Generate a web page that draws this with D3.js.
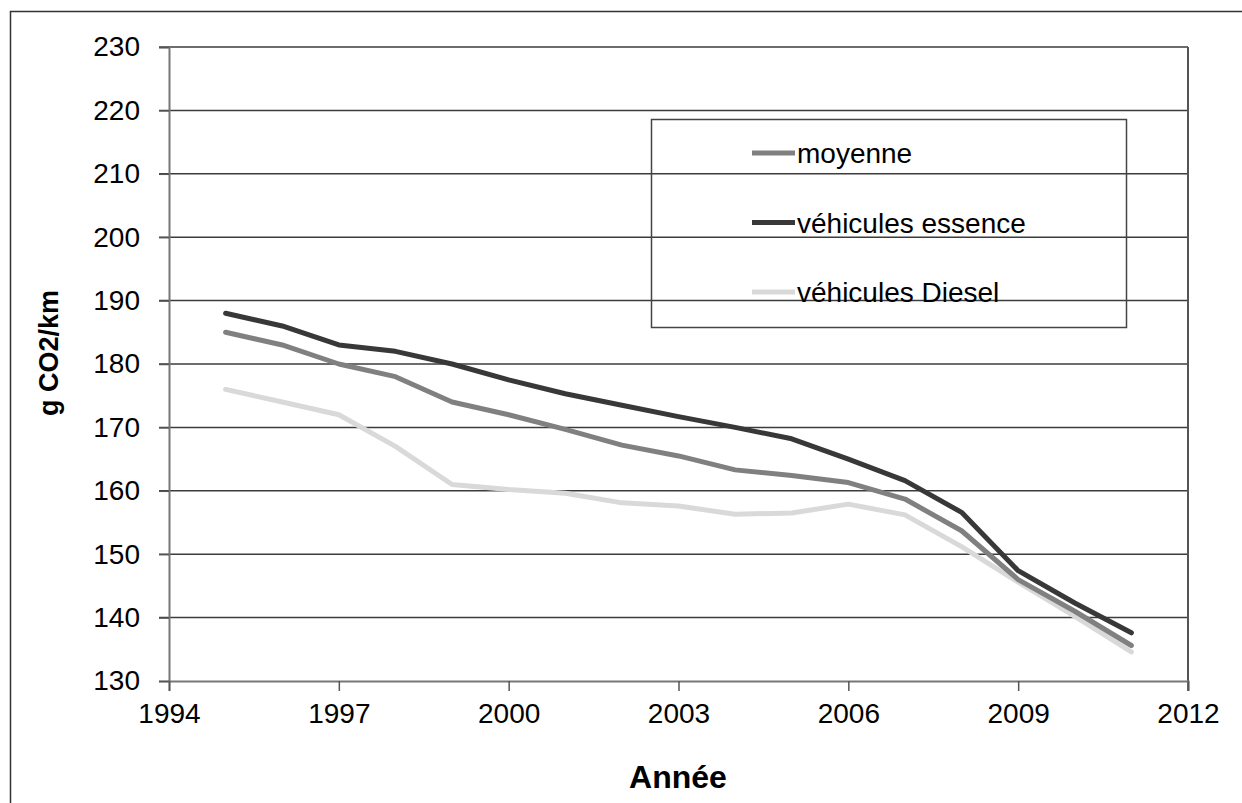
<!DOCTYPE html>
<html>
<head>
<meta charset="utf-8">
<script src="https://cdn.jsdelivr.net/npm/d3@7"></script>
<style>
  body { margin: 0; background: #fff; }
  svg text { font-family: Arial, "Liberation Sans", sans-serif; fill: #000; }
</style>
</head>
<body>
<svg id="Chart"></svg>
<script>
// years and g CO2/km values
let years = [1995, 1996, 1997, 1998, 1999, 2000, 2001, 2002, 2003, 2004, 2005, 2006, 2007, 2008, 2009, 2010, 2011];
let moyenne = [185, 183, 180, 178, 174, 172, 169.7, 167.2, 165.5, 163.3, 162.4, 161.3, 158.7, 153.7, 146, 141, 135.6];
let essence = [188, 186, 183, 182, 180, 177.5, 175.3, 173.5, 171.7, 170, 168.2, 165, 161.6, 156.6, 147.4, 142.3, 137.6];
let diesel = [176, 174, 172, 167, 161, 160.2, 159.6, 158.1, 157.6, 156.3, 156.5, 157.9, 156.2, 151.2, 145.6, 140.2, 134.6];
let seriesNames = ['moyenne', 'véhicules essence', 'véhicules Diesel'];
let seriesColors = ['#808080', '#383838', '#d9d9d9'];
let xTicks = [1994, 1997, 2000, 2003, 2006, 2009, 2012];
let yTicks = [130, 140, 150, 160, 170, 180, 190, 200, 210, 220, 230];

function getConfig() {
  let width = 1242;
  let height = 803;
  let margin = { top: 47, bottom: 122, left: 169, right: 54 };
  let bodyWidth = width - margin.left - margin.right;
  let bodyHeight = height - margin.top - margin.bottom;
  let container = d3.select('#Chart').attr('width', width).attr('height', height);
  return { width, height, margin, bodyWidth, bodyHeight, container };
}

function getScales(config) {
  let { bodyWidth, bodyHeight } = config;
  let xScale = d3.scaleLinear().domain([1994, 2012]).range([0, bodyWidth]);
  let yScale = d3.scaleLinear().domain([130, 230]).range([bodyHeight, 0]);
  return { xScale, yScale };
}

function drawFrame(config) {
  // outer border of the picture, cut off on the right and bottom
  config.container.append('rect')
    .attr('x', 10.5).attr('y', 11.5)
    .attr('width', 1300).attr('height', 900)
    .attr('fill', 'none').attr('stroke', '#333').attr('stroke-width', 1.5);
}

function drawAxes(scales, config) {
  let { xScale, yScale } = scales;
  let { container, margin, bodyWidth, bodyHeight } = config;
  let body = container.append('g')
    .attr('transform', `translate(${margin.left},${margin.top})`);

  // horizontal grid lines
  body.append('g')
    .selectAll('line').data(yTicks.slice(1)).enter().append('line')
    .attr('x1', -10).attr('x2', bodyWidth)
    .attr('y1', d => yScale(d)).attr('y2', d => yScale(d))
    .attr('stroke', '#3c3c3c').attr('stroke-width', 1.5);

  // right border of the plot area
  body.append('line')
    .attr('x1', bodyWidth).attr('x2', bodyWidth)
    .attr('y1', 0).attr('y2', bodyHeight + 10)
    .attr('stroke', '#555').attr('stroke-width', 2);

  let axisY = d3.axisLeft(yScale).tickValues(yTicks).tickSize(10).tickPadding(19);
  let gy = body.append('g').call(axisY);
  gy.select('.domain').attr('stroke', '#777').attr('stroke-width', 2);
  gy.selectAll('.tick line').attr('stroke', '#555').attr('stroke-width', 1.5);
  gy.selectAll('text').style('font-size', '28px').attr('fill', '#000');

  let axisX = d3.axisBottom(xScale).tickValues(xTicks).tickFormat(d3.format('d')).tickSize(10).tickPadding(12);
  let gx = body.append('g').attr('transform', `translate(0,${bodyHeight})`).call(axisX);
  gx.select('.domain').attr('stroke', '#777').attr('stroke-width', 2);
  gx.selectAll('.tick line').attr('stroke', '#555').attr('stroke-width', 1.5);
  gx.selectAll('text').style('font-size', '28px').attr('fill', '#000');

  // axis titles
  container.append('text')
    .attr('transform', 'translate(58,353) rotate(-90)')
    .attr('text-anchor', 'middle')
    .style('font-size', '27px').style('font-weight', 'bold')
    .text('g CO2/km');
  container.append('text')
    .attr('x', 678).attr('y', 788)
    .attr('text-anchor', 'middle')
    .style('font-size', '32px').style('font-weight', 'bold')
    .text('Année');

  return body;
}

function drawLines(body, scales) {
  let { xScale, yScale } = scales;
  let data = [moyenne, essence, diesel];
  let line = d3.line()
    .x((d, i) => xScale(years[i]))
    .y(d => yScale(d));
  // draw diesel first, then moyenne, then essence on top
  [2, 0, 1].forEach(k => {
    body.append('path')
      .datum(data[k])
      .attr('d', line)
      .attr('fill', 'none')
      .attr('stroke', seriesColors[k])
      .attr('stroke-width', 5)
      .attr('stroke-linejoin', 'round')
      .attr('stroke-linecap', 'round');
  });
}

function drawLegend(config) {
  let { container } = config;
  let legend = container.append('g');
  legend.append('rect')
    .attr('x', 651.5).attr('y', 119.5)
    .attr('width', 475).attr('height', 208)
    .attr('fill', 'none').attr('stroke', '#444').attr('stroke-width', 1.5);
  let rows = legend.selectAll('.item').data(seriesNames).enter().append('g')
    .attr('transform', (d, i) => `translate(752,${153 + i * 69.5})`);
  rows.append('line')
    .attr('x1', 0).attr('x2', 43)
    .attr('stroke', (d, i) => seriesColors[i]).attr('stroke-width', 5);
  rows.append('text')
    .attr('x', 45).attr('y', 10)
    .style('font-size', '28px')
    .text(d => d);
}

function drawChart() {
  let config = getConfig();
  let scales = getScales(config);
  drawFrame(config);
  let body = drawAxes(scales, config);
  drawLines(body, scales);
  drawLegend(config);
}

drawChart();
</script>
</body>
</html>
